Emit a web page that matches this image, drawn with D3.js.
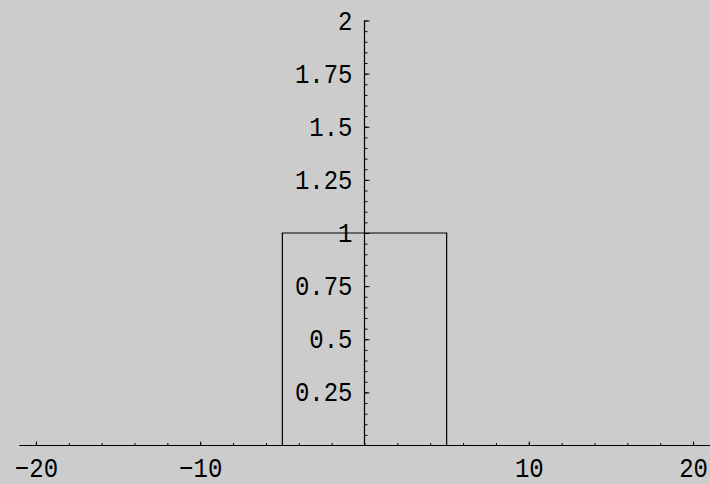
<!DOCTYPE html>
<html>
<head>
<meta charset="utf-8">
<script src="https://cdn.jsdelivr.net/npm/d3@7"></script>
<style>
  html, body { margin: 0; padding: 0; background: #cccccc; }
  svg { display: block; }
  .tick text { font-family: "Liberation Mono", monospace; font-size: 24px; fill: #000; }
</style>
</head>
<body>
<svg id="chart" width="710" height="484"></svg>
<script>
// pulse: 1 between -5 and 5, 0 elsewhere
var pulseX = [-21, -5, -5, 5, 5, 21];
var pulseY = [0, 0, 1, 1, 0, 0];

var xMajorTicks = [-20, -10, 10, 20];
var xMinorTicks = d3.range(-20, 21, 2);
var yMajorTicks = [0.25, 0.5, 0.75, 1, 1.25, 1.5, 1.75, 2];
var yMinorTicks = d3.range(1, 41).map(function(i) { return i * 0.05; });

var width = 710,
    height = 484;

var svg = d3.select('#chart');

var x = d3.scaleLinear()
  .domain([-21, 21])
  .range([19.5, 709.5]);

var y = d3.scaleLinear()
  .domain([0, 2])
  .range([445.5, 20.5]);

function fmt(d) {
  return String(d).replace('-', '\u2212');
}

// x axis
var xAxisMinor = d3.axisTop(x)
  .tickValues(xMinorTicks)
  .tickSize(2.5)
  .tickFormat('');

var xAxis = d3.axisTop(x)
  .tickValues(xMajorTicks)
  .tickSize(4)
  .tickFormat(fmt);

svg.append('g')
  .attr('transform', 'translate(0,' + y(0) + ')')
  .call(xAxisMinor)
  .call(function(g) { g.select('.domain').remove(); });

var gx = svg.append('g')
  .attr('transform', 'translate(0,' + y(0) + ')')
  .call(xAxis);

gx.select('.domain').remove();
gx.selectAll('.tick text')
  .attr('y', 0)
  .attr('dy', 0)
  .attr('transform', 'translate(0,31.5) scale(1,1.15)');

svg.append('line')
  .attr('x1', x(-21))
  .attr('x2', width)
  .attr('y1', y(0))
  .attr('y2', y(0))
  .attr('stroke', '#000')
  .attr('stroke-width', 1.2);

// y axis
var yAxisMinor = d3.axisRight(y)
  .tickValues(yMinorTicks)
  .tickSize(3)
  .tickFormat('');

var yAxis = d3.axisRight(y)
  .tickValues(yMajorTicks)
  .tickSize(5)
  .tickFormat(function(d) { return String(d); });

svg.append('g')
  .attr('transform', 'translate(' + x(0) + ',0)')
  .call(yAxisMinor)
  .call(function(g) { g.select('.domain').remove(); });

var gy = svg.append('g')
  .attr('transform', 'translate(' + x(0) + ',0)')
  .call(yAxis);

gy.select('.domain').remove();
gy.selectAll('.tick text')
  .attr('x', 0)
  .attr('dy', 0)
  .attr('text-anchor', 'end')
  .attr('transform', 'translate(-12,8.5) scale(1,1.15)');

svg.append('line')
  .attr('x1', x(0))
  .attr('x2', x(0))
  .attr('y1', y(2))
  .attr('y2', y(0))
  .attr('stroke', '#000')
  .attr('stroke-width', 1.2);

svg.selectAll('.tick line')
  .attr('stroke', '#000');

// the pulse itself
var line = d3.line()
  .x(function(d) { return x(d[0]); })
  .y(function(d) { return y(d[1]); });

svg.append('path')
  .datum(d3.zip(pulseX, pulseY))
  .attr('d', line)
  .attr('fill', 'none')
  .attr('stroke', '#000')
  .attr('stroke-width', 1.2);
</script>
</body>
</html>
